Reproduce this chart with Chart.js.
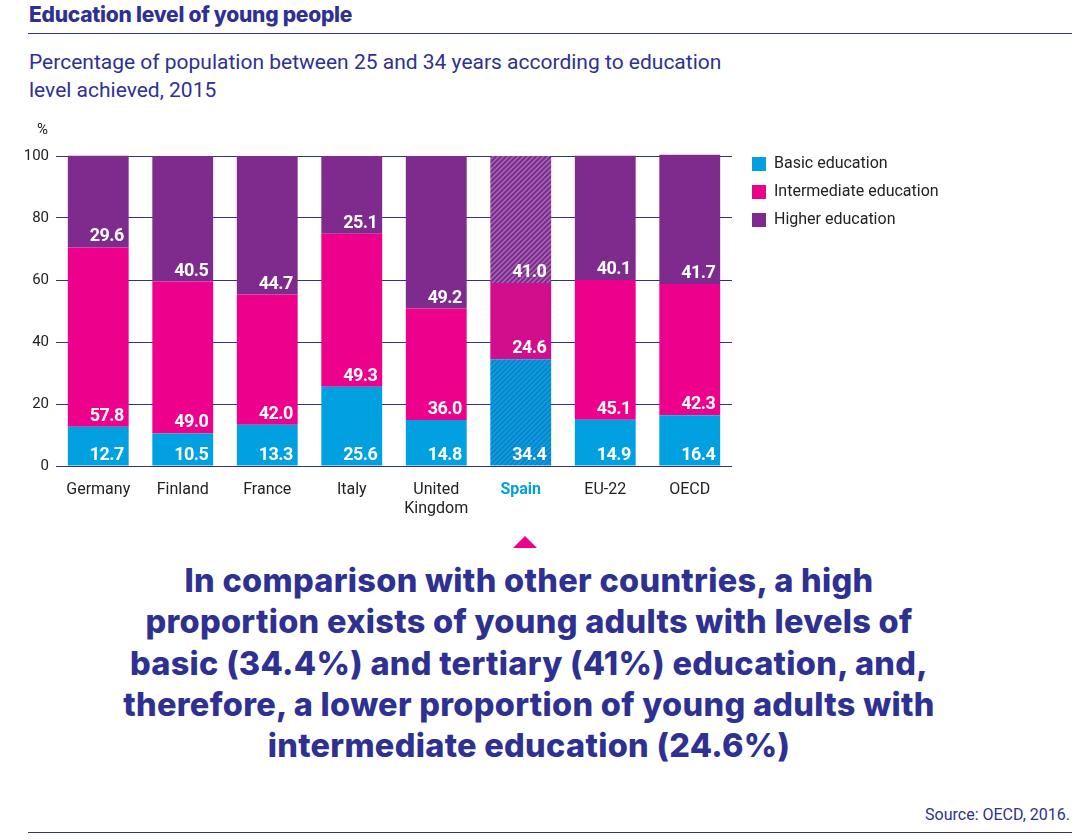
<!DOCTYPE html>
<html>
<head>
<meta charset="utf-8">
<script src="https://cdn.jsdelivr.net/npm/chart.js@4.4.0/dist/chart.umd.min.js"></script>
<style>
  html, body { margin: 0; padding: 0; background: #fff; }
  body { width: 1078px; height: 840px; position: relative; overflow: hidden; font-family: Roboto, "Noto Sans", sans-serif; color: #2e3192; }
  .heading { position: absolute; left: 29px; top: 3px; font-family: Inter, Roboto, sans-serif; font-size: 21px; font-weight: 800; line-height: 24px; letter-spacing: -0.25px; }
  .rule { position: absolute; left: 28px; width: 1044px; height: 1px; background: #2e3192; }
  .subtitle { position: absolute; left: 29px; top: 48px; width: 760px; font-size: 21px; line-height: 28px; }
  .chart-box { position: absolute; left: 0; top: 110px; width: 1078px; height: 420px; }
  .arrow { position: absolute; left: 513px; top: 536px; width: 0; height: 0; border-left: 12px solid transparent; border-right: 12px solid transparent; border-bottom: 12px solid #ec008c; }
  .message { position: absolute; left: 0; top: 560px; width: 1058px; text-align: center; font-family: Inter, Roboto, sans-serif; font-size: 32.5px; font-weight: 800; line-height: 41.3px; letter-spacing: 0.3px; }
  .source { position: absolute; right: 8px; top: 805px; font-size: 16px; }
</style>
</head>
<body>
<div class="heading">Education level of young people</div>
<div class="rule" style="top:33px"></div>
<div class="subtitle">Percentage of population between 25 and 34 years according to education<br>level achieved, 2015</div>
<div class="chart-box"><canvas id="eduChart"></canvas></div>
<div class="arrow"></div>
<div class="message">In comparison with other countries, a high<br>proportion exists of young adults with levels of<br>basic (34.4%) and tertiary (41%) education, and,<br>therefore, a lower proportion of young adults with<br>intermediate education (24.6%)</div>
<div class="source">Source: OECD, 2016.</div>
<div class="rule" style="top:832px"></div>

<script>
// --- data ---
const countries = ['Germany', 'Finland', 'France', 'Italy', ['United', 'Kingdom'], 'Spain', 'EU-22', 'OECD'];
const basicEdu = [12.7, 10.5, 13.3, 25.6, 14.8, 34.4, 14.9, 16.4];
const intermediateEdu = [57.8, 49.0, 42.0, 49.3, 36.0, 24.6, 45.1, 42.3];
const higherEdu = [29.6, 40.5, 44.7, 25.1, 49.2, 41.0, 40.1, 41.7];
const yTicks = [0, 20, 40, 60, 80, 100];
const spainIndex = 5;

// --- colours ---
const blue = '#00a0e1';
const magenta = '#ec008c';
const purple = '#7f2b8e';
const navy = '#2e3192';
const ink = '#222222';
const font = 'Roboto';

// striped fill used for Spain
function hatch(base, stripe) {
    const c = document.createElement('canvas');
    c.width = 5; c.height = 5;
    const g = c.getContext('2d');
    g.fillStyle = base;
    g.fillRect(0, 0, 5, 5);
    g.strokeStyle = stripe;
    g.lineWidth = 1.4;
    g.beginPath();
    g.moveTo(-1, 6); g.lineTo(6, -1);
    g.moveTo(-1, 1); g.lineTo(1, -1);
    g.moveTo(4, 6); g.lineTo(6, 4);
    g.stroke();
    return g.createPattern(c, 'repeat');
}
const blueHatch = hatch(blue, '#1a78c2');
const magentaHatch = hatch(magenta, '#a8238f');
const purpleHatch = hatch(purple, '#a56fb5');

const fillFor = (plain, striped) => (c) => c.dataIndex === spainIndex ? striped : plain;

// white value labels in the lower right corner of each segment, plus the "%" unit
const segmentLabels = {
    id: 'segmentLabels',
    afterDatasetsDraw(chart) {
        const ctx = chart.ctx;
        ctx.save();
        ctx.fillStyle = '#fff';
        ctx.font = 'bold 18px ' + font;
        ctx.letterSpacing = '-0.6px';
        ctx.textAlign = 'right';
        ctx.textBaseline = 'alphabetic';
        chart.data.datasets.forEach((ds, i) => {
            chart.getDatasetMeta(i).data.forEach((bar, j) => {
                ctx.fillText(ds.data[j].toFixed(1), bar.x + bar.width / 2 - 5, bar.base - 6);
            });
        });
        ctx.letterSpacing = '0px';
        const ys = chart.scales.y;
        ctx.fillStyle = ink;
        ctx.font = '15px ' + font;
        ctx.fillText('%', ys.right - 8, chart.chartArea.top - 22);
        ctx.restore();
    }
};

// put the legend to the right of the plot, aligned with its top
const legendPlacer = {
    id: 'legendPlacer',
    afterLayout(chart) {
        const lg = chart.legend;
        const w = lg.width, h = lg.height;
        lg.left = 740; lg.right = 740 + w;
        lg.top = chart.chartArea.top - 12; lg.bottom = lg.top + h;
    }
};

const eduCtx = document.getElementById('eduChart');
new Chart(eduCtx.getContext('2d'), {
    type: 'bar',
    data: {
        labels: countries,
        datasets: [
            { label: 'Basic education', data: basicEdu, backgroundColor: fillFor(blue, blueHatch) },
            { label: 'Intermediate education', data: intermediateEdu, backgroundColor: fillFor(magenta, magentaHatch) },
            { label: 'Higher education', data: higherEdu, backgroundColor: fillFor(purple, purpleHatch) }
        ]
    },
    options: {
        responsive: true,
        maintainAspectRatio: false,
        animation: false,
        layout: { padding: { top: 46, right: 346, bottom: 4, left: 0 } },
        datasets: { bar: { barPercentage: 0.72, categoryPercentage: 1, clip: false } },
        scales: {
            x: {
                stacked: true,
                grid: { display: false },
                border: { display: false },
                ticks: {
                    padding: 6,
                    maxRotation: 0,
                    autoSkip: false,
                    color: (c) => c.index === spainIndex ? blue : ink,
                    font: (c) => ({ family: font, size: 16, weight: c.index === spainIndex ? 'bold' : 'normal', lineHeight: 1.2 })
                },
                afterFit(scale) { scale.height = 60; }
            },
            y: {
                stacked: true,
                min: 0,
                max: 100,
                afterBuildTicks(scale) { scale.ticks = yTicks.map(v => ({ value: v })); },
                grid: { color: navy, lineWidth: 1, drawTicks: false },
                border: { display: false },
                ticks: { padding: 7, color: ink, font: { family: font, size: 15 } },
                afterFit(scale) { scale.width = 56; }
            }
        },
        plugins: {
            legend: {
                position: 'chartArea',
                align: 'start',
                labels: {
                    boxWidth: 14,
                    boxHeight: 14,
                    padding: 12,
                    color: ink,
                    font: { family: font, size: 16 }
                }
            },
            tooltip: { enabled: false }
        }
    },
    plugins: [segmentLabels, legendPlacer]
});
</script>
</body>
</html>
